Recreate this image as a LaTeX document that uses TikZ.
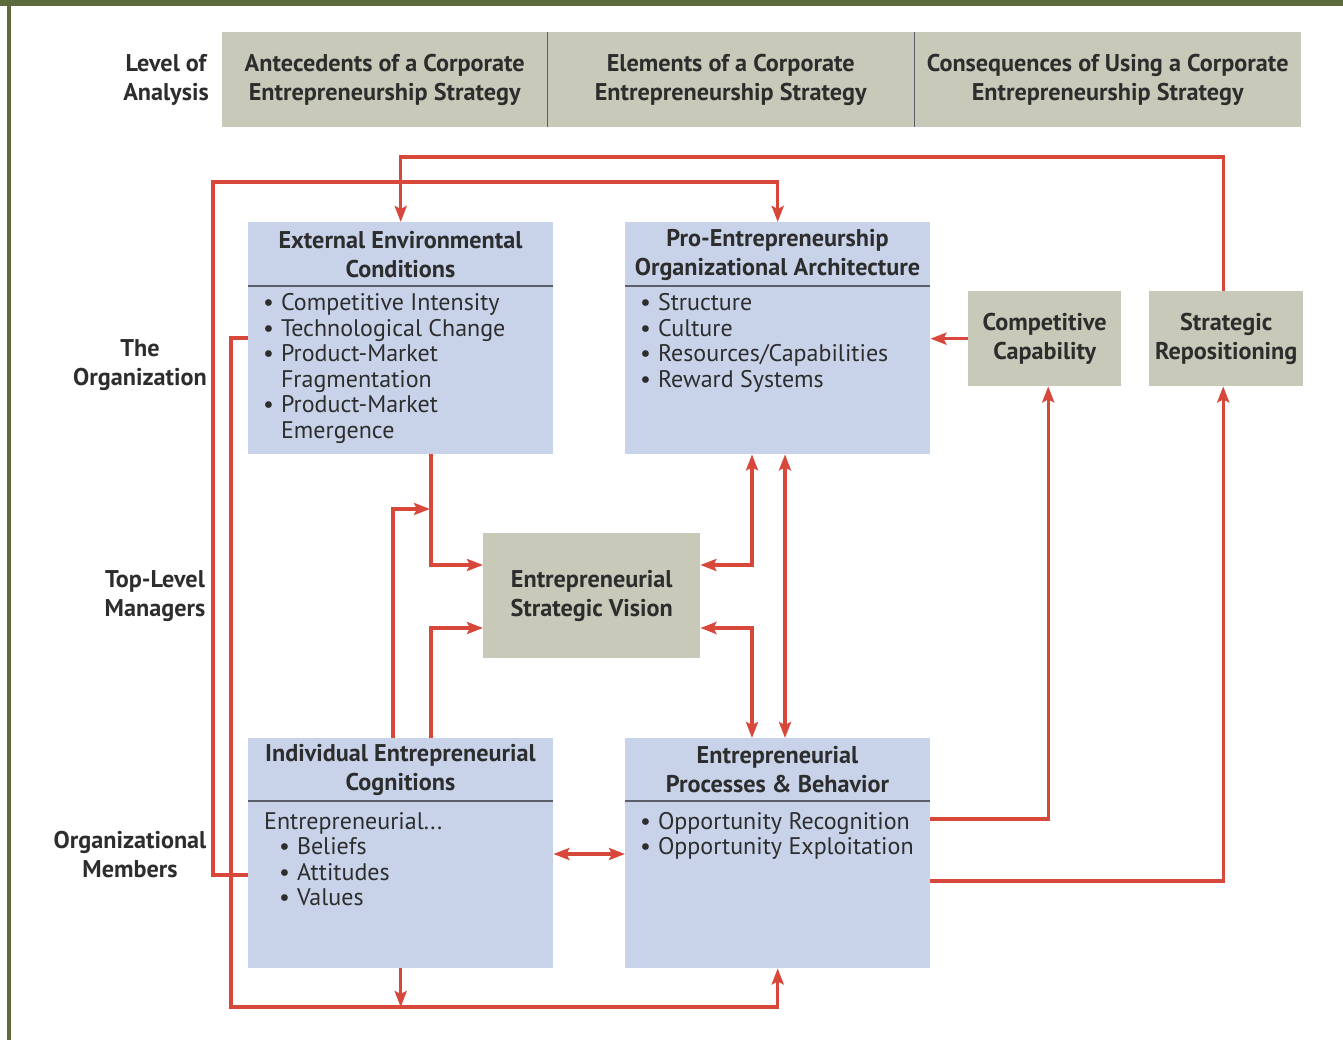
\documentclass[tikz,border=0pt]{standalone}
\usepackage{fontspec}
\setmainfont{PT Sans}
\usetikzlibrary{arrows.meta}
\definecolor{hdrgray}{RGB}{200,201,185}
\definecolor{boxblue}{RGB}{200,211,234}
\definecolor{conred}{RGB}{216,72,58}
\definecolor{txt}{RGB}{45,45,45}
\definecolor{rulegray}{RGB}{90,94,104}
\definecolor{framegreen}{RGB}{92,106,62}
\tikzset{
  graybox/.style={fill=hdrgray, inner sep=0pt, anchor=north west},
  bluebox/.style={fill=boxblue, inner sep=0pt, anchor=north west},
  ttl/.style={font=\bfseries\fontsize{24.2}{29}\selectfont, align=center, text=txt, inner sep=0pt},
  bodytxt/.style={font=\fontsize{24}{25.5}\selectfont, text=txt, inner sep=0pt, anchor=base west},
  divider/.style={draw=rulegray, line width=1.5pt},
  conn/.style={draw=conred, line width=3.2pt},
  tip/.style={-{Stealth[length=16pt,width=12pt,inset=3pt]}},
  tips/.style={{Stealth[length=16pt,width=12pt,inset=3pt]}-{Stealth[length=16pt,width=12pt,inset=3pt]}}
}
\begin{document}
\begin{tikzpicture}[x=1pt,y=-1pt]
\useasboundingbox (0,0) rectangle (1343,1040);
\fill[white] (0,0) rectangle (1343,1040);
% frame
\fill[framegreen] (0,0) rectangle (1343,6);
\fill[framegreen] (7,0) rectangle (11,1040);

% header
\node[graybox, ttl, anchor=north west, minimum width=325pt, minimum height=95pt] (hA) at (222,32) {Antecedents of a Corporate\\Entrepreneurship Strategy};
\node[graybox, ttl, anchor=north west, minimum width=367pt, minimum height=95pt] (hB) at (547,32) {Elements of a Corporate\\Entrepreneurship Strategy};
\node[graybox, ttl, anchor=north west, minimum width=387pt, minimum height=95pt] (hC) at (914,32) {Consequences of Using a Corporate\\Entrepreneurship Strategy};
\draw[draw=rulegray, line width=1.2pt] (hA.north east) -- (hA.south east);
\draw[draw=rulegray, line width=1.2pt] (hB.north east) -- (hB.south east);

% left labels
\node[ttl] (lvl) at (166,79.5) {Level of\\Analysis};
\node[ttl] (org) at (140,365) {The\\Organization};
\node[ttl] (tlm) at (155,596.5) {Top-Level\\Managers};
\node[ttl] (mem) at (130,855) {Organizational\\Members};

% blue boxes
\node[bluebox, minimum width=305pt, minimum height=232pt] (eec) at (248,222) {};
\node[bluebox, minimum width=305pt, minimum height=232pt] (peoa) at (625,222) {};
\node[bluebox, minimum width=305pt, minimum height=230pt] (iec) at (248,738) {};
\node[bluebox, minimum width=305pt, minimum height=230pt] (epb) at (625,738) {};
\draw[divider] ([yshift=-64pt]eec.north west) -- ([yshift=-64pt]eec.north east);
\draw[divider] ([yshift=-64pt]peoa.north west) -- ([yshift=-64pt]peoa.north east);
\draw[divider] ([yshift=-63pt]iec.north west) -- ([yshift=-63pt]iec.north east);
\draw[divider] ([yshift=-63pt]epb.north west) -- ([yshift=-63pt]epb.north east);

\node[ttl] (eecT) at (400.5,254.5) {External Environmental\\Conditions};
\node[ttl] (peoaT) at (777.5,254.5) {Pro-Entrepreneurship\\Organizational Architecture};
\node[ttl] (iecT) at (400.5,770) {Individual Entrepreneurial\\Cognitions};
\node[ttl] (epbT) at (777.5,770) {Entrepreneurial\\Processes \& Behavior};

\node[bodytxt] (eecB) at (263,311) {\begin{tabular}[t]{@{}l@{\hspace{7pt}}l@{}}
• & Competitive Intensity\\
• & Technological Change\\
• & Product-Market\\
  & Fragmentation\\
• & Product-Market\\
  & Emergence
\end{tabular}};
\node[bodytxt] (peoaB) at (640,311) {\begin{tabular}[t]{@{}l@{\hspace{7pt}}l@{}}
• & Structure\\
• & Culture\\
• & Resources/Capabilities\\
• & Reward Systems
\end{tabular}};
\node[bodytxt] (iecB) at (264,829) {\begin{tabular}[t]{@{}l@{\hspace{7pt}}l@{}}
\multicolumn{2}{@{}l@{}}{Entrepreneurial...}\\
\hspace{15pt}• & Beliefs\\
\hspace{15pt}• & Attitudes\\
\hspace{15pt}• & Values
\end{tabular}};
\node[bodytxt] (epbB) at (640,829) {\begin{tabular}[t]{@{}l@{\hspace{7pt}}l@{}}
• & Opportunity Recognition\\
• & Opportunity Exploitation
\end{tabular}};

% gray boxes
\node[graybox, ttl, minimum width=217pt, minimum height=125pt] (esv) at (483,533) {Entrepreneurial\\Strategic Vision};
\node[graybox, ttl, minimum width=153pt, minimum height=95pt] (cc) at (968,291) {Competitive\\Capability};
\node[graybox, ttl, minimum width=154pt, minimum height=95pt] (sr) at (1149,291) {Strategic\\Repositioning};

% route coordinates
\coordinate (r1) at (800,157);
\coordinate (l2) at (213,182);
\coordinate (l3) at (231,1007);
\coordinate (j1) at (431,509);

% connectors
\draw[conn,tip] ([xshift=-3pt]sr.north) |- (r1) -| (eec.north);
\draw[conn,tip] ([yshift=-137pt]iec.north west) -| (l2) -| (peoa.north);
\draw[conn,tip] ([yshift=-116pt]eec.north west) -| (l3) -| (epb.south);
\draw[conn,tip] (iec.south) -- (iec.south |- l3);
\draw[conn,tip] ([xshift=183pt]eec.south west) |- ([yshift=-32pt]esv.north west);
\draw[conn,tip] ([xshift=145pt]iec.north west) |- ([xshift=-1pt]j1);
\draw[conn,tip] ([xshift=183pt]iec.north west) |- ([yshift=-95pt]esv.north west);
\draw[conn,tips] ([xshift=127pt]peoa.south west) |- ([yshift=-32pt]esv.north east);
\draw[conn,tips] ([xshift=160pt]peoa.south west) -- ([xshift=160pt]epb.north west);
\draw[conn,tips] ([yshift=-95pt]esv.north east) -| ([xshift=127pt]epb.north west);
\draw[conn,tips] ([yshift=-116pt]iec.north east) -- ([yshift=-116pt]epb.north west);
\draw[conn,tip] ([yshift=-81pt]epb.north east) -| ([xshift=3.5pt]cc.south);
\draw[conn,tip] ([yshift=-143pt]epb.north east) -| ([xshift=-3pt]sr.south);
\draw[conn,tip] (cc.west) -- (peoa.east |- cc.west);
\end{tikzpicture}
\end{document}
